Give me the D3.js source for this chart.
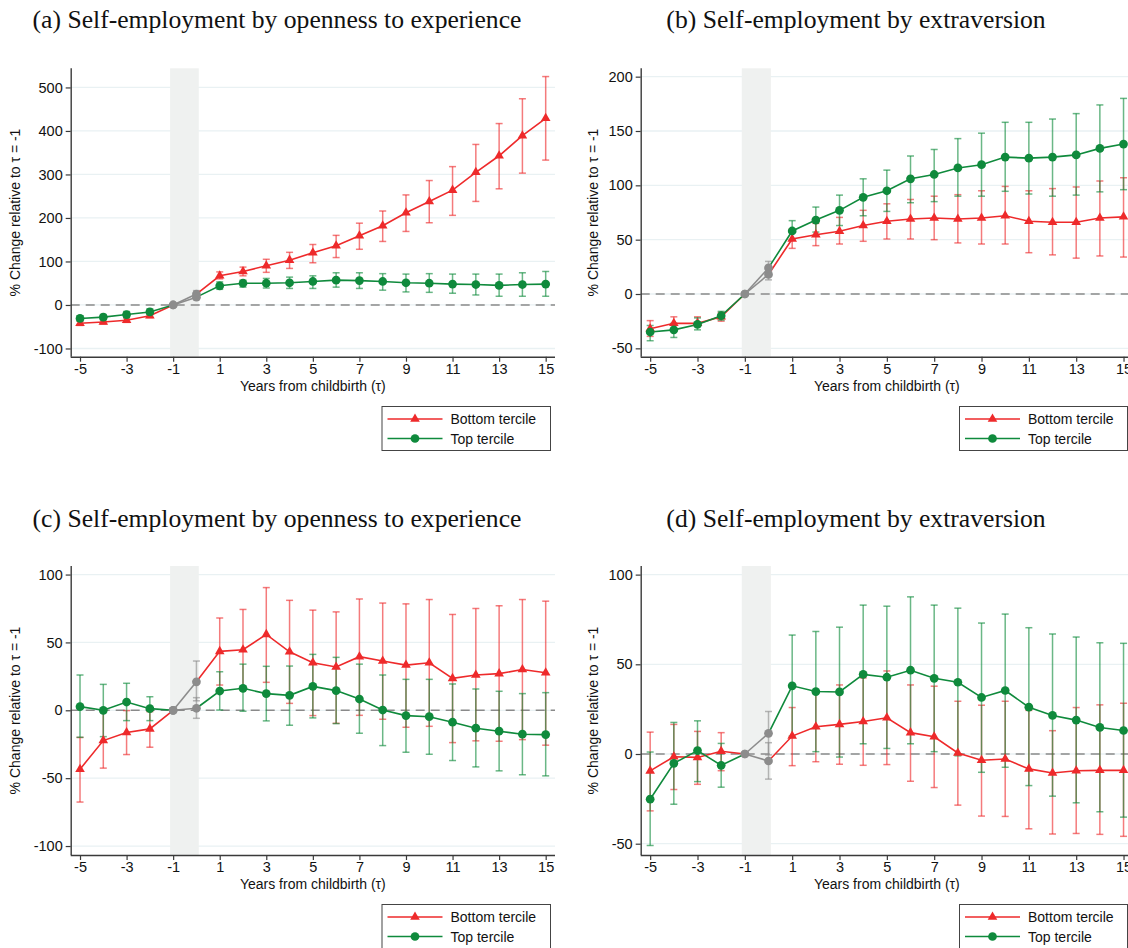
<!DOCTYPE html>
<html>
<head>
<meta charset="utf-8">
<script src="https://cdn.jsdelivr.net/npm/d3@7"></script>
<style>
  body { margin: 0; background: #ffffff; }
  svg { display: block; }
</style>
</head>
<body>
<svg id="fig" width="1128" height="948"></svg>
<script>
// Event time relative to childbirth
const years = [-5,-4,-3,-2,-1,0,1,2,3,4,5,6,7,8,9,10,11,12,13,14,15];
const xTickLabels = [-5,-3,-1,1,3,5,7,9,11,13,15];
const seriesNames = ["Bottom tercile", "Top tercile"];

// (a) Openness, full sample scale
const openABottom   = [-42,-39,-35,-25,0,25,67,77,90,103,120,136,159,182,212,238,264,305,343,389,429];
const openABottomLo = [-47,-44,-40,-29,0,17,60,67,75,84,97,109,128,146,169,189,206,238,267,303,333];
const openABottomHi = [-37,-34,-30,-21,0,33,76,87,105,121,139,160,188,216,253,286,318,369,417,474,525];
const openATop      = [-31,-28,-22,-16,0,18,44,50,50,51,54,57,56,54,51,50,48,47,45,47,48];
const openATopLo    = [-37,-34,-29,-23,0,12,36,41,39,38,38,41,38,34,30,29,27,23,20,20,20];
const openATopHi    = [-25,-22,-15,-9,0,24,53,57,61,64,67,74,74,72,71,72,71,71,71,74,77];

// (b) Extraversion
const extBBottom   = [-32,-27,-27,-21,0,18,50.6,54.6,57.7,63,67,69,70,69,70,72,67,66,66,70,71];
const extBBottomLo = [-39,-34,-29,-25,0,13,42,44.5,46,48.5,50.6,50.6,50,47,46,46,38,36,33,35,34];
const extBBottomHi = [-24.5,-21,-21,-17,0,22,60,65,70.5,77,83,87,90,91.4,95,99,95,97,98.5,104,107];
const extBTop      = [-35,-33,-28,-20,0,24,58,68,77,89,95,106,110,116,119,126,125,126,128,134,138];
const extBTopLo    = [-43,-40,-33,-24,0,19,50,57,63,72,76,84,85,90,90,94.5,92,90,91,94,96];
const extBTopHi    = [-29,-27,-22,-16,0,30,67.5,80,91,106,114,127,133,143,148,158,158,161,166,174,180];

// (c) Openness, alternative sample
const openCBottom   = [-43.4,-22.3,-16.4,-13.7,0,21,43.4,44.6,55.9,43.1,35,31.9,39.5,36.3,33.3,35,23.5,26,27,30,27.7];
const openCBottomLo = [-67.6,-42.6,-32.6,-27.2,0,7,18.6,15,20.6,5.1,-3.9,-9.6,-3.7,-6.6,-12.5,-11.8,-23.8,-22.5,-22.8,-21.6,-25.7];
const openCBottomHi = [-20,-1.5,-0.2,-1,0,36.3,68,74.3,90.4,81,73.8,72.5,82,79,78.4,81.6,70.6,75,77,81.6,80.4];
const openCTop      = [2.7,0,6.1,1.2,0,1.5,14.2,16.2,12.3,11,17.6,14.5,8.3,0.2,-3.9,-4.7,-8.8,-13.2,-15.4,-17.6,-17.9];
const openCTopLo    = [-19.9,-19.4,-7.6,-7.6,0,-5.9,0.2,-0.7,-7.8,-11,-5.6,-9.8,-16.9,-26,-30.9,-32.4,-37,-41.7,-44.6,-47.5,-48.3];
const openCTopHi    = [26,19.1,19.9,10,0,9.3,28.4,34,32.4,32.6,41.2,39,34,26,22.8,22.8,19.4,15.7,14,12.3,13];

// (d) Extraversion, alternative sample
const extDBottom   = [-9.4,-1.5,-1.9,1.5,0,-3.9,10,15.2,16.5,18.1,20.2,11.9,9.6,0.6,-3.5,-2.8,-8.3,-10.6,-9.3,-9.1,-9.1];
const extDBottomLo = [-31.7,-19.8,-16.9,-9.3,0,-14,-6.5,-4.3,-5.7,-6.3,-5.9,-15.2,-18.7,-28.5,-34.6,-34.8,-41.7,-44.6,-44.3,-44.8,-45.9];
const extDBottomHi = [12.2,16.5,12.6,11.9,0,6.3,25.9,34,38.5,42.4,46.3,38.5,37.8,29.4,27.2,29.4,24.3,13,25.9,27.4,28.3];
const extDTop      = [-25.2,-5.2,1.9,-6.3,0,11.5,38,34.8,34.6,44.4,42.8,46.7,42.2,40,31.5,35.4,26.1,21.5,18.9,14.8,13.1];
const extDTopLo    = [-51,-28,-15.4,-18.5,0,-0.5,10,1.3,-1.7,5.7,3.1,5.7,1.3,-1,-10.2,-7.4,-17.6,-23.5,-27.2,-32.2,-35.2];
const extDTopHi    = [1.1,17.6,18.5,5.9,0,23.7,66.3,68.3,70.7,83,82.4,87.6,83,81.3,73,78,70.4,66.9,65.2,62,61.7];

const yTicksA = [-100,0,100,200,300,400,500];
const yTicksB = [-50,0,50,100,150,200];
const yTicksC = [-100,-50,0,50,100];
const yTicksD = [-50,0,50,100];

const titles = [
  "(a) Self-employment by openness to experience",
  "(b) Self-employment by extraversion",
  "(c) Self-employment by openness to experience",
  "(d) Self-employment by extraversion"
];

const RED = "#ee2a2b";
const GREEN = "#0f8a3c";
const GRAY = "#8c8c8c";
const AXIS = "#3a3a3a";
const GRID = "#e9f1f3";
const BAND = "#eff1f0";
const SANS = "'Liberation Sans', Arial, sans-serif";
const SERIF = "'Liberation Serif', 'DejaVu Serif', serif";

// Plain hyphen for negative tick labels
const fmt = d => String(d);

const svg = d3.select("#fig");

// Panel frames: axis position and value range of each plot
const panels = [
  { title: titles[0], cx: 277, ty: 28,  left: 70.7,  right: 555,  top: 68.3, bottom: 356.7, yDom: [-118.9, 544],  ticks: yTicksA, yTitleX: 20,
    red: [openABottom, openABottomLo, openABottomHi], green: [openATop, openATopLo, openATopHi], legend: { x: 381.5, y: 406, w: 168.5 } },
  { title: titles[1], cx: 856, ty: 28,  left: 640.7, right: 1133, top: 68.3, bottom: 356.7, yDom: [-57.7, 207.7], ticks: yTicksB, yTitleX: 598,
    red: [extBBottom, extBBottomLo, extBBottomHi], green: [extBTop, extBTopLo, extBTopHi], legend: { x: 959, y: 406, w: 168 } },
  { title: titles[2], cx: 277, ty: 527, left: 70.7,  right: 555,  top: 566,  bottom: 855,   yDom: [-106.6, 106.3], ticks: yTicksC, yTitleX: 20,
    red: [openCBottom, openCBottomLo, openCBottomHi], green: [openCTop, openCTopLo, openCTopHi], legend: { x: 381.5, y: 904, w: 168.5 } },
  { title: titles[3], cx: 856, ty: 527, left: 640.7, right: 1133, top: 566,  bottom: 855,   yDom: [-56.3, 104.8], ticks: yTicksD, yTitleX: 598,
    red: [extDBottom, extDBottomLo, extDBottomHi], green: [extDTop, extDTopLo, extDTopHi], legend: { x: 959, y: 904, w: 168 } }
];

const triangle = d3.symbol().type(d3.symbolTriangle).size(40);
const circle = d3.symbol().type(d3.symbolCircle).size(60);

// Size the serif titles so the long title spans its column
const probe = svg.append("text").attr("font-family", SERIF).attr("font-size", 22).text(titles[0]);
const probeW = probe.node().getComputedTextLength();
probe.remove();
const titleSize = 22 * 489 / probeW;

panels.forEach(p => {
  const g = svg.append("g");
  const x = d3.scaleLinear().domain([-5.4, 15.4]).range([p.left, p.right]);
  const y = d3.scaleLinear().domain(p.yDom).range([p.bottom, p.top]);

  // Title
  svg.append("text")
    .attr("x", p.cx).attr("y", p.ty)
    .attr("text-anchor", "middle")
    .attr("font-family", SERIF).attr("font-size", titleSize)
    .attr("fill", "#111")
    .text(p.title);

  // Gridlines
  g.selectAll("line.grid").data(p.ticks).join("line")
    .attr("class", "grid")
    .attr("x1", p.left).attr("x2", p.right)
    .attr("y1", d => y(d)).attr("y2", d => y(d))
    .attr("stroke", GRID).attr("stroke-width", 1.3);

  // Birth-year band
  g.append("rect")
    .attr("x", x(-1.13)).attr("width", x(0.1) - x(-1.13))
    .attr("y", p.top).attr("height", p.bottom - p.top)
    .attr("fill", BAND);

  // Reference line at zero
  g.append("line")
    .attr("x1", p.left).attr("x2", p.right)
    .attr("y1", y(0)).attr("y2", y(0))
    .attr("stroke", "#8a8a8a").attr("stroke-width", 1.5)
    .attr("stroke-dasharray", "9,6");

  // Axes
  const yAxis = d3.axisLeft(y).tickValues(p.ticks).tickSize(5).tickPadding(3).tickFormat(fmt);
  const yG = g.append("g").attr("transform", `translate(${p.left},0)`).call(yAxis);
  const xAxis = d3.axisBottom(x).tickValues(xTickLabels).tickSize(5).tickPadding(2).tickFormat(fmt);
  const xG = g.append("g").attr("transform", `translate(0,${p.bottom})`).call(xAxis);
  [yG, xG].forEach(a => {
    a.select(".domain").attr("stroke", AXIS).attr("stroke-width", 1.4)
      .attr("d", a === yG ? `M0.5,${p.top}V${p.bottom}` : `M${p.left},0.5H${p.right}`);
    a.selectAll(".tick line").attr("stroke", AXIS).attr("stroke-width", 1.2);
    a.selectAll(".tick text").attr("font-family", SANS).attr("font-size", 14.5).attr("fill", "#111");
  });

  // Axis titles
  g.append("text")
    .attr("x", x(5)).attr("y", p.bottom + 34)
    .attr("text-anchor", "middle")
    .attr("font-family", SANS).attr("font-size", 14).attr("fill", "#111")
    .text("Years from childbirth (τ)");
  g.append("text")
    .attr("transform", `translate(${p.yTitleX},${(p.top + p.bottom) / 2}) rotate(-90)`)
    .attr("text-anchor", "middle")
    .attr("font-family", SANS).attr("font-size", 14).attr("fill", "#111")
    .text("% Change relative to τ = -1");

  const series = [
    { vals: p.red, color: RED, sym: triangle },
    { vals: p.green, color: GREEN, sym: circle }
  ];

  // Confidence intervals
  series.forEach(s => {
    const [v, lo, hi] = s.vals;
    const idx = years.map((t, i) => i).filter(i => years[i] !== -1);
    const eb = g.append("g");
    idx.forEach(i => {
      const c = years[i] === 0 ? GRAY : s.color;
      const xx = x(years[i]);
      eb.append("line").attr("x1", xx).attr("x2", xx).attr("y1", y(lo[i])).attr("y2", y(hi[i]))
        .attr("stroke", c).attr("stroke-width", 1.5).attr("stroke-opacity", 0.62);
      [lo[i], hi[i]].forEach(e => {
        eb.append("line").attr("x1", xx - 3.5).attr("x2", xx + 3.5).attr("y1", y(e)).attr("y2", y(e))
          .attr("stroke", c).attr("stroke-width", 1.5).attr("stroke-opacity", 0.62);
      });
    });
  });

  // Connecting lines: colored outside the birth window, gray across it
  const line = d3.line().x(d => x(d[0])).y(d => y(d[1]));
  series.forEach(s => {
    const v = s.vals[0];
    const pts = years.map((t, i) => [t, v[i]]);
    g.append("path").attr("d", line(pts.filter(d => d[0] <= -1))).attr("fill", "none").attr("stroke", s.color).attr("stroke-width", 1.6);
    g.append("path").attr("d", line(pts.filter(d => d[0] >= 0))).attr("fill", "none").attr("stroke", s.color).attr("stroke-width", 1.6);
    g.append("path").attr("d", line(pts.filter(d => d[0] === -1 || d[0] === 0))).attr("fill", "none").attr("stroke", GRAY).attr("stroke-width", 1.6);
  });

  // Markers
  series.forEach(s => {
    const v = s.vals[0];
    years.forEach((t, i) => {
      if (t === -1 || t === 0) return;
      g.append("path").attr("d", s.sym()).attr("transform", `translate(${x(t)},${y(v[i])})`).attr("fill", s.color);
    });
  });
  series.forEach(s => {
    const v = s.vals[0];
    years.forEach((t, i) => {
      if (t !== -1 && t !== 0) return;
      g.append("path").attr("d", circle()).attr("transform", `translate(${x(t)},${y(v[i])})`).attr("fill", GRAY);
    });
  });

  // Legend
  const L = p.legend;
  const lg = svg.append("g").attr("transform", `translate(${L.x},${L.y})`);
  lg.append("rect").attr("x", 0.5).attr("y", 0.5).attr("width", L.w).attr("height", 44)
    .attr("fill", "#fff").attr("stroke", "#444").attr("stroke-width", 1);
  series.forEach((s, k) => {
    const yy = 13 + k * 19.5;
    lg.append("line").attr("x1", 6).attr("x2", 61).attr("y1", yy).attr("y2", yy)
      .attr("stroke", s.color).attr("stroke-width", 1.6);
    lg.append("path").attr("d", s.sym()).attr("transform", `translate(33.5,${yy})`).attr("fill", s.color);
    lg.append("text").attr("x", 69).attr("y", yy + 5)
      .attr("font-family", SANS).attr("font-size", 14).attr("fill", "#111")
      .text(seriesNames[k]);
  });
});
</script>
</body>
</html>
